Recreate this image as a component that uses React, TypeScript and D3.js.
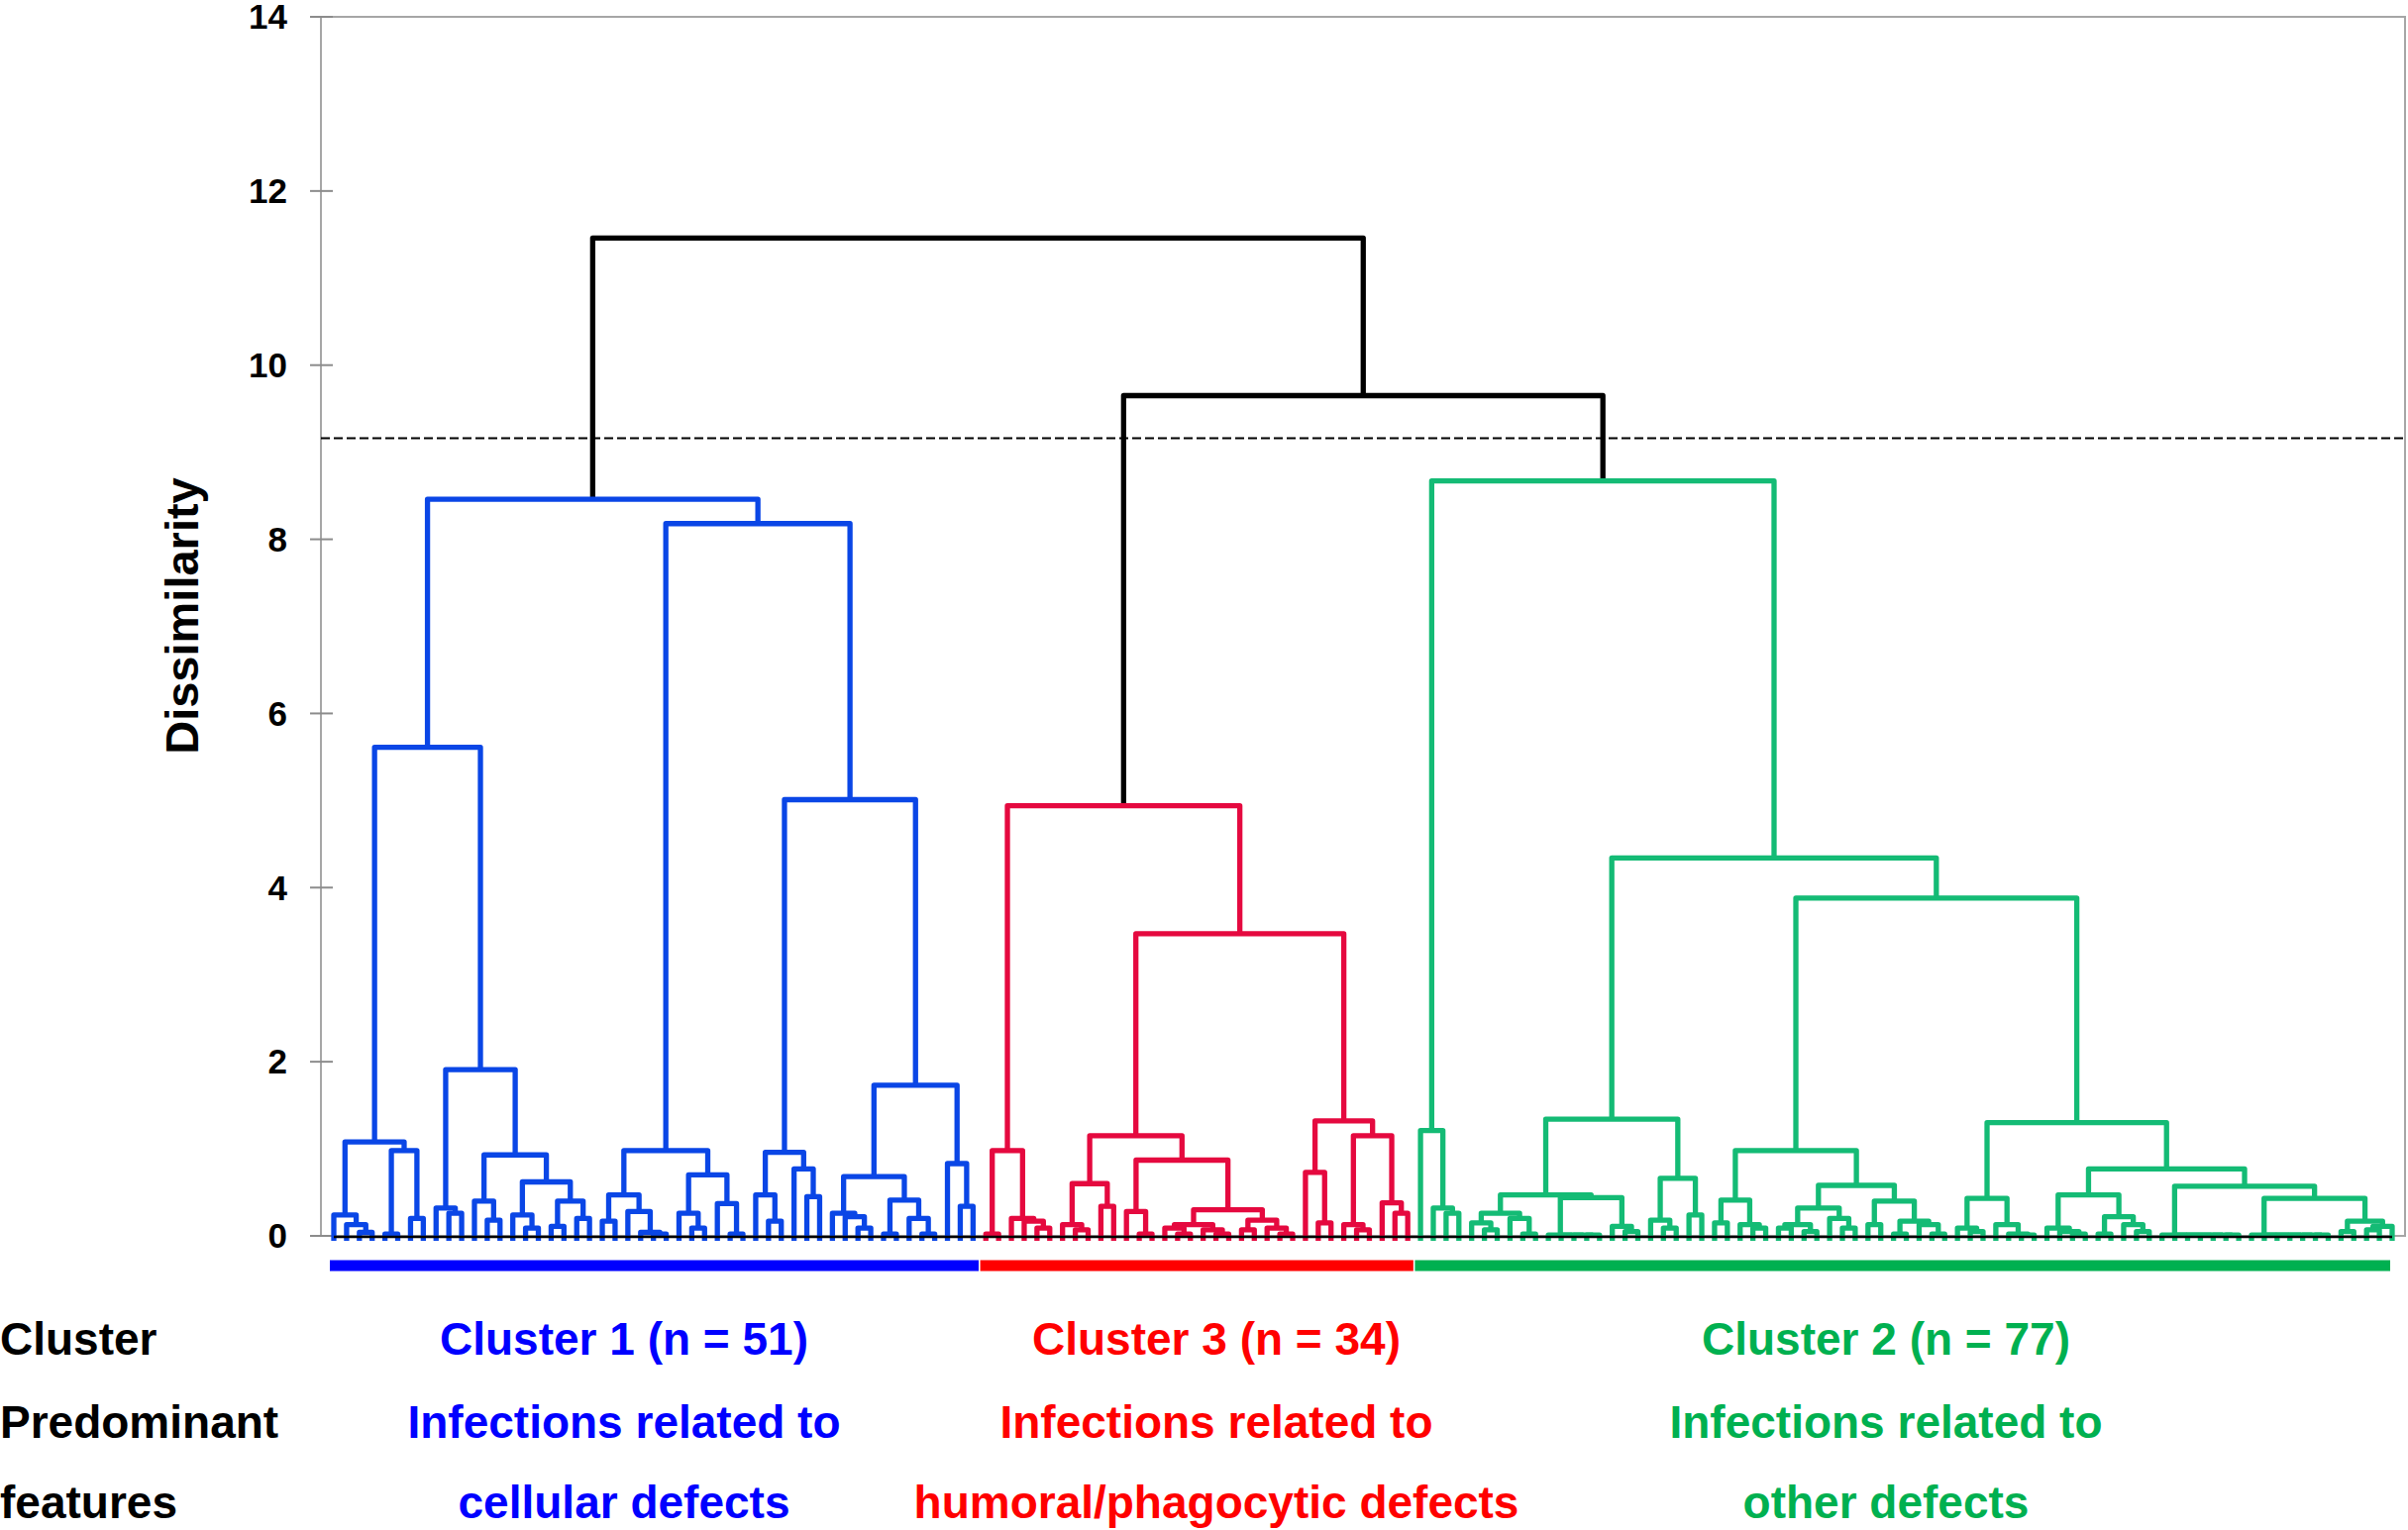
import React, { useMemo } from "react";
import * as d3 from "d3";

// dendrogram branches: "o" is one case, "(a,b)h" merges a and b at dissimilarity h
const c1Left = "((o,(o,(o,o)0.04)0.13)0.24,((o,o)0.02,(o,o)0.20)0.98)1.08";
const c1Mid = "((o,(o,o)0.26)0.32,((o,(o,o)0.18)0.40,((o,(o,o)0.09)0.24,((o,o)0.11,(o,o)0.20)0.40)0.62)0.93)1.91";
const c1RightA = "(((o,o)0.17,(o,(o,(o,o)0.02)0.04)0.28)0.47,((o,(o,o)0.09)0.26,(o,(o,o)0.02)0.37)0.70)0.98";
const c1RightB = "((o,(o,o)0.17)0.47,(o,(o,o)0.45)0.77)0.96";
const c1RightC = "(((o,(o,(o,o)0.09)0.22)0.26,((o,o)0.02,(o,(o,o)0.02)0.20)0.41)0.68,(o,(o,o)0.34)0.83)1.73";
const cluster1Tree = `((${c1Left},${c1Mid})5.61,(${c1RightA},(${c1RightB},${c1RightC})5.01)8.18)8.46`;

const c3Left = "((o,o)0.02,(o,(o,(o,o)0.09)0.17)0.20)0.98";
const c3Mid = "(((o,(o,o)0.07)0.13,(o,o)0.34)0.60,((o,(o,o)0.02)0.28,(((o,(o,o)0.02)0.09,(o,(o,o)0.02)0.07)0.13,((o,o)0.07,(o,(o,o)0.02)0.09)0.18)0.30)0.87)1.15";
const c3Right = "((o,(o,o)0.15)0.73,((o,(o,o)0.07)0.13,(o,(o,o)0.26)0.38)1.15)1.32";
const cluster3Tree = `(${c3Left},(${c3Mid},${c3Right})3.47)4.94`;

const c2Left = "(o,(o,(o,o)0.26)0.32)1.21";
const c2A = "((((o,(o,o)0.07)0.15,(o,(o,o)0.02)0.20)0.26,((o,(o,(o,(o,o)0.01)0.01)0.01)0.01,(o,(o,o)0.05)0.11)0.44)0.47,((o,(o,o)0.09)0.18,(o,o)0.24)0.66)1.34";
const c2B = "(((o,o)0.15,(o,(o,o)0.09)0.13)0.41,((((o,o)0.09,(o,o)0.05)0.13,(o,(o,o)0.09)0.20)0.32,((o,o)0.13,((o,o)0.02,(o,(o,o)0.02)0.13)0.17)0.40)0.58)0.98";
const c2C = "(((o,(o,o)0.05)0.09,(o,(o,(o,o)0.01)0.02)0.13)0.43,(((o,(o,(o,o)0.02)0.05)0.09,((o,o)0.02,(o,(o,o)0.05)0.13)0.22)0.47,((o,(o,(o,(o,(o,(o,o)0.01)0.01)0.01)0.01)0.01)0.01,((o,(o,(o,(o,(o,(o,o)0.01)0.01)0.01)0.01)0.01)0.01,((o,o)0.05,((o,o)0.07,o)0.11)0.17)0.43)0.57)0.77)1.30";
const cluster2Tree = `(${c2Left},(${c2A},(${c2B},${c2C})3.88)4.34)8.67`;

// order left to right in the figure
const clusterTrees = [cluster1Tree, cluster3Tree, cluster2Tree];
const clusterTitles = ["Cluster 1 (n = 51)", "Cluster 3 (n = 34)", "Cluster 2 (n = 77)"];
const featureLine1 = ["Infections related to", "Infections related to", "Infections related to"];
const featureLine2 = ["cellular defects", "humoral/phagocytic defects", "other defects"];
const rowLabels = ["Cluster", "Predominant", "features"];

const rootHeight = 11.46;
const cluster32Height = 9.65;
const cutHeight = 9.16;
const yTicks = [0, 2, 4, 6, 8, 10, 12, 14];

const lineColors = ["#0A46E6", "#E5093F", "#14BB75"];
const textColors = ["#0000FF", "#FF0000", "#00B050"];

type TreeNode = { height: number; cluster: number; children?: TreeNode[] };

function parseTree(src: string, cluster: number): TreeNode {
  let pos = 0;
  const read = (): TreeNode => {
    if (src[pos] === "o") {
      pos++;
      return { height: 0, cluster };
    }
    pos++; // (
    const left = read();
    pos++; // ,
    const right = read();
    pos++; // )
    const num = /^[0-9.]+/.exec(src.slice(pos))![0];
    pos += num.length;
    return { height: +num, cluster, children: [left, right] };
  };
  return read();
}

const W = 2431;
const H = 1545;
const FONT = "'Liberation Sans', Arial, sans-serif";

export default function App() {
  const { links, leafX, clusterRanges, y } = useMemo(() => {
    const [t1, t3, t2] = clusterTrees.map((s, i) => parseTree(s, i));
    const root: TreeNode = {
      height: rootHeight,
      cluster: -1,
      children: [t1, { height: cluster32Height, cluster: -1, children: [t3, t2] }],
    };
    const h = d3.hierarchy(root);
    const leaves = h.leaves();
    const x = d3.scalePoint<number>().domain(d3.range(leaves.length)).range([337, 2415]);
    const y = d3.scaleLinear().domain([0, 14]).range([1248, 17]);
    const pos = new Map<any, number>();
    leaves.forEach((l, i) => pos.set(l, x(i)!));
    h.eachAfter((n) => {
      if (n.children) pos.set(n, d3.mean(n.children, (c) => pos.get(c)!)!);
    });
    const childY = (n: d3.HierarchyNode<TreeNode>) => (n.children ? y(n.data.height) : y(0) + 5);
    const links: { d: string; color: string }[] = [];
    h.each((n) => {
      if (!n.children) return;
      const [a, b] = n.children;
      const ny = y(n.data.height);
      links.push({
        d: `M${pos.get(a)},${childY(a)}V${ny}H${pos.get(b)}V${childY(b)}`,
        color: n.data.cluster < 0 ? "#000000" : lineColors[n.data.cluster],
      });
    });
    const clusterRanges = clusterTrees.map((_, c) => {
      const idx = leaves.map((l, i) => (l.data.cluster === c ? i : -1)).filter((i) => i >= 0);
      return [idx[0], idx[idx.length - 1]];
    });
    return { links, leafX: (i: number) => x(i)!, clusterRanges, y };
  }, []);

  const nLeaves = clusterRanges[clusterRanges.length - 1][1];
  const barBounds = clusterRanges.map(([a, b], c) => {
    const start = c === 0 ? leafX(a) - 4 : (leafX(a - 1) + leafX(a)) / 2 + 0.8;
    const end = c === clusterRanges.length - 1 ? leafX(b) - 2 : (leafX(b) + leafX(b + 1)) / 2 - 0.8;
    return [start, end];
  });

  const labelX = [630, 1228, 1904];
  const rowY = [1368, 1452, 1533];
  const frameLeft = 324;
  const frameRight = 2428;

  return (
    <svg
      width={W}
      height={H}
      viewBox={`0 0 ${W} ${H}`}
      style={{ position: "absolute", left: 0, top: 0, background: "#fff" }}
      fontFamily={FONT}
      fontWeight="bold"
    >
      <rect x={0} y={0} width={W} height={H} fill="#fff" />
      {/* frame */}
      <rect
        x={frameLeft}
        y={y(14)}
        width={frameRight - frameLeft}
        height={y(0) - y(14)}
        fill="none"
        stroke="#A6A6A6"
        strokeWidth={2}
      />
      {yTicks.map((t) => (
        <g key={t}>
          <line x1={313} x2={336} y1={y(t)} y2={y(t)} stroke="#8C8C8C" strokeWidth={2} />
          <text x={290} y={y(t)} dy="0.35em" textAnchor="end" fontSize={35} fill="#000">
            {t}
          </text>
        </g>
      ))}
      <text transform="translate(200,622) rotate(-90)" textAnchor="middle" fontSize={47} fill="#000">
        Dissimilarity
      </text>

      {/* tree */}
      <g fill="none" strokeWidth={5.3} strokeLinejoin="round">
        {links.map((l, i) => (
          <path key={i} d={l.d} stroke={l.color} />
        ))}
      </g>
      <line x1={leafX(0)} x2={leafX(nLeaves)} y1={y(0) + 1} y2={y(0) + 1} stroke="#000" strokeWidth={2.5} />
      <line
        x1={frameLeft}
        x2={frameRight}
        y1={y(cutHeight)}
        y2={y(cutHeight)}
        stroke="#000"
        strokeWidth={2}
        strokeDasharray="9 4"
      />

      {/* cluster bars */}
      {barBounds.map(([a, b], c) => (
        <rect key={c} x={a} y={1272.5} width={b - a} height={11} fill={textColors[c]} />
      ))}

      {/* labels */}
      {rowLabels.map((t, i) => (
        <text key={t} x={0} y={rowY[i]} fontSize={46} fill="#000">
          {t}
        </text>
      ))}
      {clusterTitles.map((t, c) => (
        <g key={t} fill={textColors[c]} fontSize={46} textAnchor="middle">
          <text x={labelX[c]} y={rowY[0]}>{t}</text>
          <text x={labelX[c]} y={rowY[1]}>{featureLine1[c]}</text>
          <text x={labelX[c]} y={rowY[2]}>{featureLine2[c]}</text>
        </g>
      ))}
    </svg>
  );
}
